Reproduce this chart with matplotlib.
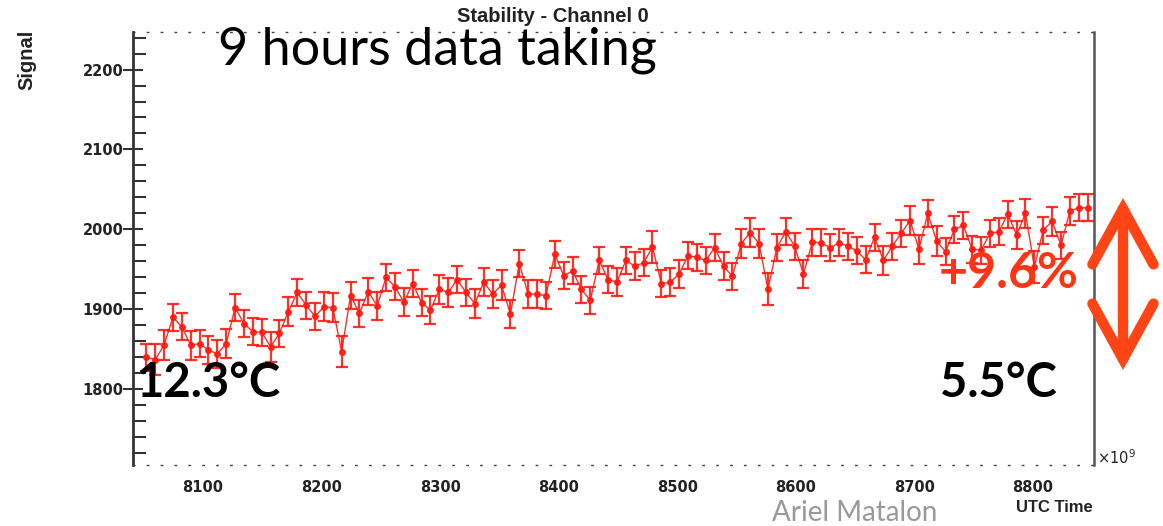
import numpy as np
import matplotlib
matplotlib.use("Agg")
import matplotlib.pyplot as plt
from matplotlib.ticker import MultipleLocator

signal = [1840, 1837, 1855, 1890, 1878, 1855, 1857, 1849, 1844, 1857,
          1902, 1882, 1872, 1871, 1853, 1870, 1897, 1921, 1905, 1891,
          1903, 1902, 1847, 1917, 1895, 1922, 1904, 1940, 1928, 1909,
          1932, 1908, 1899, 1925, 1921, 1937, 1921, 1907, 1934, 1919,
          1930, 1894, 1957, 1919, 1919, 1917, 1969, 1942, 1948, 1925,
          1911, 1961, 1937, 1934, 1961, 1954, 1958, 1978, 1932, 1934,
          1944, 1967, 1965, 1961, 1977, 1954, 1941, 1982, 1996, 1982,
          1925, 1977, 1997, 1979, 1944, 1984, 1983, 1977, 1983, 1979,
          1973, 1962, 1990, 1961, 1979, 1995, 2011, 1975, 2020, 1985,
          1972, 2000, 2005, 1975, 1974, 1995, 1997, 2019, 1993, 2020,
          1953, 1999, 2010, 1980, 2023, 2027, 2027]
signal_err = [17, 19, 19, 17, 17, 18, 17, 17, 17, 18,
              17, 17, 17, 17, 19, 17, 18, 17, 17, 17,
              18, 18, 19, 17, 17, 17, 17, 17, 17, 17,
              17, 17, 18, 18, 18, 17, 17, 18, 17, 17,
              19, 17, 17, 17, 17, 17, 17, 17, 17, 17,
              17, 17, 17, 17, 17, 17, 17, 20, 17, 17,
              17, 17, 17, 17, 17, 17, 17, 18, 18, 18,
              20, 17, 17, 17, 18, 17, 17, 17, 17, 17,
              17, 17, 17, 18, 17, 17, 18, 18, 17, 19,
              17, 17, 17, 17, 17, 17, 17, 17, 17, 18,
              20, 17, 18, 17, 17, 17, 17]

# time stamps: regular sampling (units of 1e9 on the axis)
t_start = 8052.2
t_step = 7.49
time = t_start + t_step * np.arange(len(signal))

W, H = 1163, 526
def fx(px):
    return px / W
def fy(py):
    return 1 - py / H

fig = plt.figure(figsize=(W / 100, H / 100), dpi=100)
ax = fig.add_axes([fx(133), fy(465), (1094 - 133) / W, (465 - 32) / H])

ax.errorbar(time, signal, yerr=signal_err, fmt='-o', color='#ff1a10', ms=4,
            lw=1.0, elinewidth=1.6, capsize=4.5, capthick=1.6, alpha=0.9)

ax.set_xlim(8041, 8851.5)
ax.set_ylim(1705, 2247)

ax.xaxis.set_major_locator(MultipleLocator(100))
ax.yaxis.set_major_locator(MultipleLocator(100))
ax.yaxis.set_minor_locator(MultipleLocator(20))

ax.tick_params(axis='y', which='major', direction='inout', length=14, width=1.5,
               color='#333333', pad=0, labelsize=10.5)
ax.tick_params(axis='y', which='minor', direction='in', length=9, width=1.5,
               color='#333333')
ax.tick_params(axis='x', which='both', length=0, pad=11, labelsize=10.5)
for lab in ax.get_xticklabels() + ax.get_yticklabels():
    lab.set_fontweight('bold')
    lab.set_color('#222222')

ax.spines['left'].set_color('#333333')
ax.spines['left'].set_linewidth(2)
ax.spines['right'].set_color('#555555')
ax.spines['right'].set_linewidth(1.8)
for s in ['top', 'bottom']:
    ax.spines[s].set_color('#444444')
    ax.spines[s].set_linewidth(1)
    ax.spines[s].set_linestyle((0, (1, 9)))

# ROOT style titles
fig.text(fx(553), fy(17), 'Stability - Channel 0', ha='center', va='center',
         fontsize=14.5, fontweight='bold', family='Liberation Sans', color='#222222')
fig.text(fx(27), fy(30), 'Signal', ha='center', va='top', rotation=90,
         fontsize=14.5, fontweight='bold', family='Liberation Sans', color='#222222')
fig.text(fx(1093), fy(508), 'UTC Time', ha='right', va='center',
         fontsize=12, fontweight='bold', family='Liberation Sans', color='#222222')
fig.text(fx(1097), fy(458), r'$\times$10$^{9}$', ha='left', va='center',
         fontsize=10.5, family='DejaVu Sans', color='#222222')

# slide annotations
fig.text(fx(218), fy(64), '9 hours data taking', ha='left', va='baseline',
         fontsize=37.5, family='Lato', color='black')
fig.text(fx(137), fy(383), '12.3°C', ha='left', va='center',
         fontsize=34, fontweight='bold', family='Lato', color='black')
fig.text(fx(940), fy(383), '5.5°C', ha='left', va='center',
         fontsize=34, fontweight='bold', family='Lato', color='black')
fig.text(fx(939), fy(273), '+9.6%', ha='left', va='center',
         fontsize=36, fontweight='bold', family='Lato', color='#ff3414')
fig.text(fx(855), fy(521), 'Ariel Matalon', ha='center', va='baseline',
         fontsize=20, family='Lato', color='#999999')

ax.annotate('', xy=(fx(1123), fy(198)), xytext=(fx(1123), fy(370)),
            xycoords='figure fraction', textcoords='figure fraction',
            arrowprops=dict(arrowstyle='<->,head_length=4.0,head_width=2.2',
                            lw=7.5, color='#ff4516', shrinkA=0, shrinkB=0,
                            capstyle='round', joinstyle='miter'),
            annotation_clip=False)

plt.savefig('out.png', dpi=100)
